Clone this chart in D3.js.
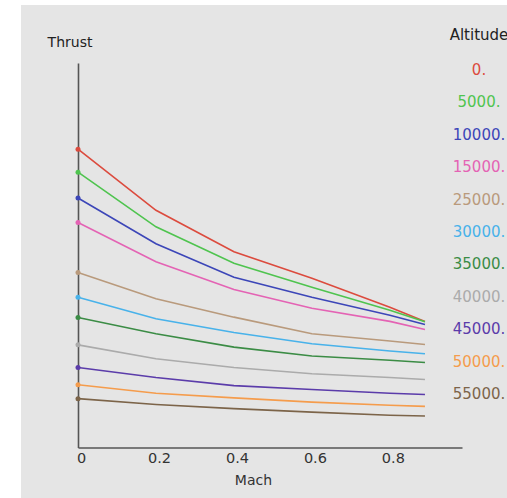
<!DOCTYPE html>
<html>
<head>
<meta charset="utf-8">
<script src="https://cdnjs.cloudflare.com/ajax/libs/d3/7.8.5/d3.min.js"></script>
<style>
  body { margin: 0; background: #fff; }
  svg text { font-family: "DejaVu Sans", sans-serif; }
</style>
</head>
<body>
<script>
// mach numbers where thrust was sampled
var mach = [0, 0.2, 0.4, 0.6, 0.8, 0.89]

// altitude labels (ft), one series per altitude
var altitudes = ["0.", "5000.", "10000.", "15000.", "25000.", "30000.",
                 "35000.", "40000.", "45000.", "50000.", "55000."]

var colors = ["#dc4b3e", "#4fc44f", "#3c46b8", "#e463b4", "#b99a7c", "#48b2ea",
              "#3b8c45", "#ababab", "#5b3caa", "#f59c4c", "#7c6449"]

// thrust (arbitrary units)
var thrust = [
  [77.6, 61.7, 50.9, 44.0, 36.5, 32.8],
  [71.6, 57.4, 47.9, 41.7, 35.7, 32.7],
  [64.9, 53.0, 44.3, 39.1, 34.4, 32.0],
  [58.5, 48.3, 41.1, 36.2, 32.8, 30.7],
  [45.5, 38.7, 33.9, 29.6, 27.7, 26.8],
  [39.1, 33.5, 29.9, 27.0, 25.1, 24.4],
  [33.8, 29.6, 26.1, 23.8, 22.7, 22.1],
  [26.7, 23.1, 20.8, 19.2, 18.2, 17.7],
  [20.8, 18.2, 16.1, 15.1, 14.1, 13.8],
  [16.3, 14.1, 12.9, 11.8, 11.0, 10.7],
  [12.7, 11.2, 10.1,  9.2,  8.4,  8.2]
]

var xTicks = [0, 0.2, 0.4, 0.6, 0.8]

let svg = d3.select('body')
  .append('svg')
  .attr('width', 507)
  .attr('height', 498)

svg.append('rect')
  .attr('x', 21).attr('y', 5)
  .attr('width', 486).attr('height', 493)
  .attr('fill', '#e5e5e5')

let Xscale = d3.scaleLinear()
  .domain([0, 0.985])
  .range([78, 462])

let Yscale = d3.scaleLinear()
  .domain([0, 100])
  .range([447.5, 63])

// x axis
let x_Axis = d3.axisBottom(Xscale)
  .tickValues(xTicks)
  .tickSize(0)
  .tickPadding(5)
  .tickFormat(d => d === 0 ? "0" : d3.format(".1f")(d))

let xg = svg.append('g')
  .attr('transform', 'translate(0,' + Yscale(0) + ')')
  .call(x_Axis)
xg.select('.domain').attr('stroke', '#555').attr('stroke-width', 1.6)
xg.selectAll('text')
  .attr('font-size', 14.5)
  .attr('fill', '#333')
  .attr('dx', 3)
  .style('font-family', '"DejaVu Sans", sans-serif')

// y axis, no ticks
let y_Axis = d3.axisLeft(Yscale).tickValues([]).tickSizeOuter(0)
let yg = svg.append('g')
  .attr('transform', 'translate(' + Xscale(0) + ',0)')
  .call(y_Axis)
yg.select('.domain').attr('stroke', '#555').attr('stroke-width', 1.6)

svg.append('text')
  .attr('x', 70).attr('y', 47)
  .attr('text-anchor', 'middle')
  .attr('font-size', 14)
  .attr('fill', '#222')
  .text('Thrust')

svg.append('text')
  .attr('x', Xscale(0.45)).attr('y', 485)
  .attr('text-anchor', 'middle')
  .attr('font-size', 14)
  .attr('fill', '#333')
  .text('Mach')

let line = d3.line()
  .x((d, i) => Xscale(mach[i]))
  .y(d => Yscale(d))

svg.selectAll('path.series')
  .data(thrust)
  .enter()
  .append('path')
  .attr('class', 'series')
  .attr('d', line)
  .attr('fill', 'none')
  .attr('stroke', (d, i) => colors[i])
  .attr('stroke-width', 1.6)

svg.selectAll('circle.start')
  .data(thrust)
  .enter()
  .append('circle')
  .attr('class', 'start')
  .attr('cx', Xscale(mach[0]))
  .attr('cy', d => Yscale(d[0]))
  .attr('r', 2.5)
  .attr('fill', (d, i) => colors[i])

// legend
svg.append('text')
  .attr('x', 479).attr('y', 40)
  .attr('text-anchor', 'middle')
  .attr('font-size', 15)
  .attr('fill', '#222')
  .text('Altitude')

svg.selectAll('text.alt')
  .data(altitudes)
  .enter()
  .append('text')
  .attr('class', 'alt')
  .attr('x', 479)
  .attr('y', (d, i) => 75 + i * 32.4)
  .attr('text-anchor', 'middle')
  .attr('font-size', 15)
  .attr('fill', (d, i) => colors[i])
  .text(d => d)
</script>
</body>
</html>
